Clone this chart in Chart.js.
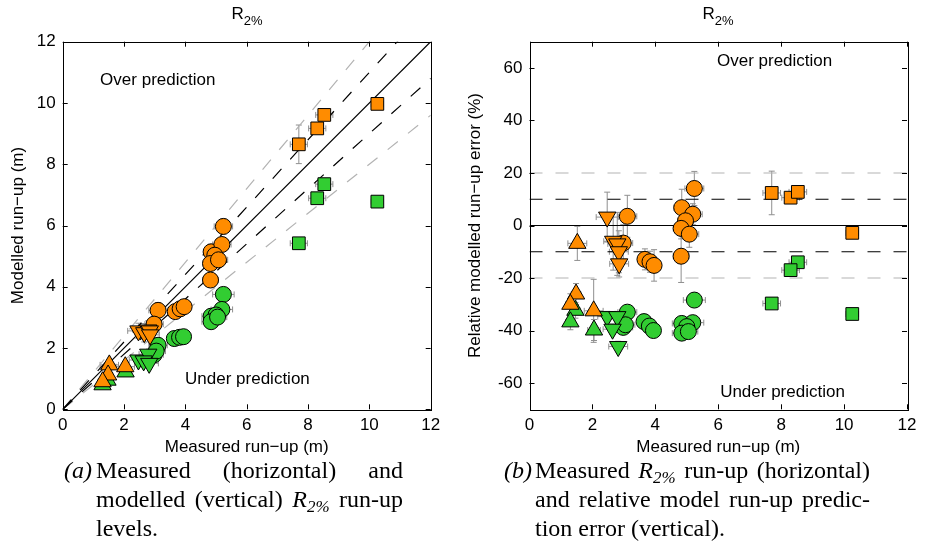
<!DOCTYPE html>
<html><head><meta charset="utf-8">
<script src="https://cdn.jsdelivr.net/npm/chart.js@4.4.0/dist/chart.umd.min.js"></script>
<style>
body{margin:0;background:#fff;width:925px;height:560px;overflow:hidden;position:relative;font-family:"Liberation Sans",Arial,sans-serif;}
canvas{position:absolute;top:0;}
.ttl{position:absolute;top:4px;width:200px;text-align:center;font-size:17px;line-height:20px;color:#000;}
.ttl sub{font-size:13px;vertical-align:-6px;line-height:0;}
.cap{position:absolute;font-family:"Liberation Serif","Times New Roman",serif;font-size:24px;line-height:29px;color:#000;}
.cap .ln{text-align:justify;text-align-last:justify;}
.cap .last{text-align:left;}
.cap i sub{font-size:17px;vertical-align:-5px;line-height:0;}
.lab{position:absolute;font-family:"Liberation Serif","Times New Roman",serif;font-size:24px;line-height:29px;font-style:italic;}
</style></head>
<body>
<canvas id="cL" width="462" height="460" style="left:0"></canvas>
<canvas id="cR" width="463" height="460" style="left:462px"></canvas>
<div class="ttl" style="left:147px">R<sub>2%</sub></div>
<div class="ttl" style="left:618px">R<sub>2%</sub></div>
<div class="lab" style="left:64px;top:456px">(a)</div>
<div class="cap" style="left:96px;top:456px;width:307px">
<div class="ln">Measured (horizontal) and</div>
<div class="ln">modelled (vertical) <i>R<sub>2%</sub></i> run-up</div>
<div class="last">levels.</div>
</div>
<div class="lab" style="left:504px;top:456px">(b)</div>
<div class="cap" style="left:535px;top:456px;width:335px">
<div class="ln">Measured <i>R<sub>2%</sub></i> run-up (horizontal)</div>
<div class="ln">and relative model run-up predic-</div>
<div class="last">tion error (vertical).</div>
</div>
<script>
// ---- tick labels ----
const xTicks = [0, 2, 4, 6, 8, 10, 12];
const yTicksL = [0, 2, 4, 6, 8, 10, 12];
const yTicksR = [-60, -40, -20, 0, 20, 40, 60];
const refSlopes = [1, 1.1, 0.9, 1.2, 0.8];
const refLevels = [0, 10, -10, 20, -20];

// ---- orange (model A) ----
const oTriX = [1.52, 1.48, 1.30, 2.04];
const oTriM = [1.45, 1.12, 0.90, 1.39];
const oTriE = [-6.8, -26.1, -30.0, -32.5];
const oDownX = [2.47, 2.66, 2.79, 2.84, 2.85];
const oDownM = [2.56, 2.50, 2.59, 2.56, 2.43];
const oDownE = [3.2, -6.0, -7.0, -10.0, -14.6];
const oCircX = [3.11, 2.98, 3.67, 3.83, 3.96, 4.84, 5.19, 4.96, 4.82, 5.08, 4.82, 5.24];
const oCircM = [3.23, 2.78, 3.19, 3.28, 3.35, 5.14, 5.38, 5.03, 4.76, 4.88, 4.22, 5.97];
const oCircE = [3.5, -6.7, -12.9, -13.8, -15.2, 6.8, 4.3, 1.8, -1.1, -3.3, -11.7, 14.1];
const oSqX = [7.70, 8.30, 8.53, 10.26];
const oSqM = [8.65, 9.17, 9.61, 9.97];
const oSqE = [12.4, 10.6, 12.8, -2.8];
// ---- green (model B) ----
const gTriX = [1.46, 1.30, 2.05];
const gTriM = [0.95, 0.80, 1.22];
const gTriE = [-32.3, -36.7, -39.8];
const gDownX = [2.47, 2.79, 2.64, 2.82];
const gDownM = [1.61, 1.80, 1.58, 1.50];
const gDownE = [-34.7, -34.7, -39.5, -46.1];
const gCircX = [3.11, 2.98, 3.05, 3.64, 3.81, 3.94, 5.24, 4.84, 5.19, 5.00, 4.84, 5.05];
const gCircM = [2.09, 1.78, 1.90, 2.31, 2.35, 2.37, 3.75, 3.04, 3.26, 3.08, 2.86, 3.01];
const gCircE = [-33.0, -38.8, -37.8, -36.6, -38.3, -40.0, -28.4, -37.3, -37.0, -38.5, -41.0, -40.4];
const gSqX = [8.53, 8.30, 7.70, 10.26];
const gSqM = [7.35, 6.89, 5.42, 6.78];
const gSqE = [-14.0, -17.0, -29.7, -33.7];

// ---- error bar half-widths ----
const oTriXe = [0.3, 0.15, 0.15, 0.3], oTriMe = [0.1, 0.06, 0.06, 0.17], oTriEe = [6.5, 4, 4, 12];
const oDownXe = [0.35, 0.3, 0.3, 0.3, 0.3], oDownMe = [0.25, 0.3, 0.3, 0.2, 0.12], oDownEe = [9.5, 11, 12, 8, 5];
const oCircXe = [0.3, 0.3, 0.2, 0.2, 0.2, 0.25, 0.3, 0.25, 0.25, 0.3, 0.25, 0.3];
const oCircMe = [0.25, 0.2, 0.2, 0.15, 0.2, 0.25, 0.2, 0.2, 0.2, 0.25, 0.2, 0.25];
const oCircEe = [8, 7, 4, 4, 6, 7, 4, 4, 4, 5, 10, 6.5];
const oSqXe = [0.28, 0.28, 0.28, 0.2], oSqMe = [0.63, 0.1, 0.1, 0.15], oSqEe = [8.3, 1.5, 1.5, 1.5];
const gTriXe = [0.15, 0.15, 0.2], gTriMe = [0.05, 0.05, 0.07], gTriEe = [3, 3, 4];
const gDownXe = [0.3, 0.3, 0.3, 0.3], gDownMe = [0.05, 0.05, 0.05, 0.05], gDownEe = [2, 2, 2, 2];
const gCircXe = [0.3, 0.3, 0.3, 0.2, 0.2, 0.2, 0.35, 0.3, 0.35, 0.3, 0.3, 0.3];
const gCircMe = [0.06, 0.06, 0.06, 0.06, 0.06, 0.06, 0.08, 0.08, 0.08, 0.08, 0.08, 0.08];
const gCircEe = [2, 2, 2, 2, 2, 2, 2, 2, 2, 2, 2, 2];
const gSqXe = [0.28, 0.28, 0.28, 0.2], gSqMe = [0.08, 0.08, 0.08, 0.08], gSqEe = [1.5, 1.5, 1.5, 1.5];

const ORANGE = '#FF8C00', GREEN = '#32CD32';
const FONT = '"Liberation Sans", Arial, sans-serif';

const groups = [
  {c: ORANGE, s: 'triangle', r: 10, rot: 0, x: oTriX, m: oTriM, e: oTriE, xe: oTriXe, me: oTriMe, ee: oTriEe},
  {c: ORANGE, s: 'triangle', r: 10, rot: 180, x: oDownX, m: oDownM, e: oDownE, xe: oDownXe, me: oDownMe, ee: oDownEe},
  {c: ORANGE, s: 'circle', r: 8, rot: 0, x: oCircX, m: oCircM, e: oCircE, xe: oCircXe, me: oCircMe, ee: oCircEe},
  {c: ORANGE, s: 'rect', r: 9, rot: 0, x: oSqX, m: oSqM, e: oSqE, xe: oSqXe, me: oSqMe, ee: oSqEe},
  {c: GREEN, s: 'triangle', r: 10, rot: 0, x: gTriX, m: gTriM, e: gTriE, xe: gTriXe, me: gTriMe, ee: gTriEe},
  {c: GREEN, s: 'triangle', r: 10, rot: 180, x: gDownX, m: gDownM, e: gDownE, xe: gDownXe, me: gDownMe, ee: gDownEe},
  {c: GREEN, s: 'circle', r: 8, rot: 0, x: gCircX, m: gCircM, e: gCircE, xe: gCircXe, me: gCircMe, ee: gCircEe},
  {c: GREEN, s: 'rect', r: 9, rot: 0, x: gSqX, m: gSqM, e: gSqE, xe: gSqXe, me: gSqMe, ee: gSqEe}
];

function scatterSets(key, errKey) {
  return groups.map(g => ({
    type: 'scatter',
    data: g.x.map((v, i) => ({x: v, y: g[key][i]})),
    errX: g.xe, errY: g[errKey],
    pointStyle: g.s, pointRadius: g.r, pointRotation: g.rot,
    pointBackgroundColor: g.c, pointBorderColor: '#000', pointBorderWidth: 1,
    showLine: false, order: 1
  }));
}

function lineStyle(i) {
  if (i === 0) return {borderColor: '#000', borderDash: [], borderWidth: 1.2};
  if (i <= 2) return {borderColor: '#000', borderDash: [13, 13], borderWidth: 1.2};
  return {borderColor: '#b3b3b3', borderDash: [13, 13], borderWidth: 1.2};
}

const leftLines = refSlopes.map((k, i) => Object.assign({
  type: 'line', data: [{x: 0, y: 0}, {x: 12, y: 12 * k}], pointRadius: 0, fill: false, order: 10
}, lineStyle(i)));
const rightLines = refLevels.map((v, i) => Object.assign({
  type: 'line', data: [{x: 0, y: v}, {x: 12, y: v}], pointRadius: 0, fill: false, order: 10
}, lineStyle(i)));

const deco = {
  id: 'deco',
  beforeDatasetsDraw(chart) {
    const {ctx, chartArea: a, scales: {x, y}} = chart;
    ctx.save();
    ctx.beginPath(); ctx.rect(a.left, a.top, a.right - a.left, a.bottom - a.top); ctx.clip();
    ctx.strokeStyle = '#8f8f8f'; ctx.lineWidth = 1;
    chart.data.datasets.forEach(ds => {
      if (!ds.errX) return;
      ds.data.forEach((p, i) => {
        const px = x.getPixelForValue(p.x), py = y.getPixelForValue(p.y);
        const x0 = x.getPixelForValue(p.x - ds.errX[i]), x1 = x.getPixelForValue(p.x + ds.errX[i]);
        const y0 = y.getPixelForValue(p.y - ds.errY[i]), y1 = y.getPixelForValue(p.y + ds.errY[i]);
        ctx.beginPath();
        ctx.moveTo(x0, py); ctx.lineTo(x1, py);
        ctx.moveTo(x0, py - 3); ctx.lineTo(x0, py + 3);
        ctx.moveTo(x1, py - 3); ctx.lineTo(x1, py + 3);
        ctx.moveTo(px, y0); ctx.lineTo(px, y1);
        ctx.moveTo(px - 3, y0); ctx.lineTo(px + 3, y0);
        ctx.moveTo(px - 3, y1); ctx.lineTo(px + 3, y1);
        ctx.stroke();
      });
    });
    ctx.restore();
  },
  afterDatasetsDraw(chart, args, opts) {
    const {ctx, chartArea: a, scales: {x, y}} = chart;
    ctx.save();
    ctx.strokeStyle = '#000'; ctx.lineWidth = 1;
    ctx.strokeRect(Math.round(a.left) + 0.5, Math.round(a.top) + 0.5, Math.round(a.right - a.left), Math.round(a.bottom - a.top));
    ctx.beginPath();
    const L = 5;
    x.ticks.forEach(t => {
      const p = Math.round(x.getPixelForValue(t.value)) + 0.5;
      ctx.moveTo(p, a.bottom); ctx.lineTo(p, a.bottom - L);
      ctx.moveTo(p, a.top); ctx.lineTo(p, a.top + L);
    });
    y.ticks.forEach(t => {
      const p = Math.round(y.getPixelForValue(t.value)) + 0.5;
      ctx.moveTo(a.left, p); ctx.lineTo(a.left + L, p);
      ctx.moveTo(a.right, p); ctx.lineTo(a.right - L, p);
    });
    ctx.stroke();
    ctx.fillStyle = '#000'; ctx.font = '17px ' + FONT; ctx.textBaseline = 'alphabetic'; ctx.textAlign = 'left';
    (opts.notes || []).forEach(n => {
      ctx.fillText(n.text, x.getPixelForValue(n.x), y.getPixelForValue(n.y));
    });
    ctx.restore();
  }
};

function fixedTicks(arr) { return s => { s.ticks = arr.map(v => ({value: v})); }; }

function makeChart(id, H, padR, yW, yMin, yMax, yTicks, yTitle, yTitlePad, sets, notes) {
  return new Chart(document.getElementById(id), {
    data: {datasets: sets},
    plugins: [deco],
    options: {
      responsive: false, animation: false, devicePixelRatio: 1, events: [],
      layout: {padding: {left: 0, top: 41.7, right: padR, bottom: 0}},
      plugins: {legend: {display: false}, tooltip: {enabled: false}, deco: {notes: notes}},
      scales: {
        x: {
          type: 'linear', position: 'bottom', min: 0, max: 12,
          afterBuildTicks: fixedTicks(xTicks),
          afterFit: s => { s.height = H - 409.3; },
          grid: {display: false, drawTicks: false}, border: {display: false},
          ticks: {color: '#000', font: {family: FONT, size: 17}, padding: 6, maxRotation: 0, autoSkip: false},
          title: {display: true, text: 'Measured run\u2212up (m)', color: '#000', font: {family: FONT, size: 17}, padding: {top: 0, bottom: 2}}
        },
        y: {
          type: 'linear', position: 'left', min: yMin, max: yMax,
          afterBuildTicks: fixedTicks(yTicks),
          afterFit: s => { s.width = yW; },
          grid: {display: false, drawTicks: false}, border: {display: false},
          ticks: {color: '#000', font: {family: FONT, size: 17}, padding: 7, autoSkip: false},
          title: {display: true, text: yTitle, color: '#000', font: {family: FONT, size: 17}, padding: {top: yTitlePad, bottom: 0}}
        }
      }
    }
  });
}

makeChart('cL', 460, 462 - 430.7, 62.7, 0, 12, yTicksL, 'Modelled run\u2212up (m)', 8,
  scatterSets('m', 'me').concat(leftLines),
  [{text: 'Over prediction', x: 1.22, y: 10.59}, {text: 'Under prediction', x: 3.99, y: 0.83}]);
makeChart('cR', 460, 463 - 445, 67.5, -70, 70, yTicksR, 'Relative modelled run\u2212up error (%)', 3,
  scatterSets('e', 'ee').concat(rightLines),
  [{text: 'Over prediction', x: 5.96, y: 60.6}, {text: 'Under prediction', x: 6.06, y: -65.3}]);
</script>
</body></html>
